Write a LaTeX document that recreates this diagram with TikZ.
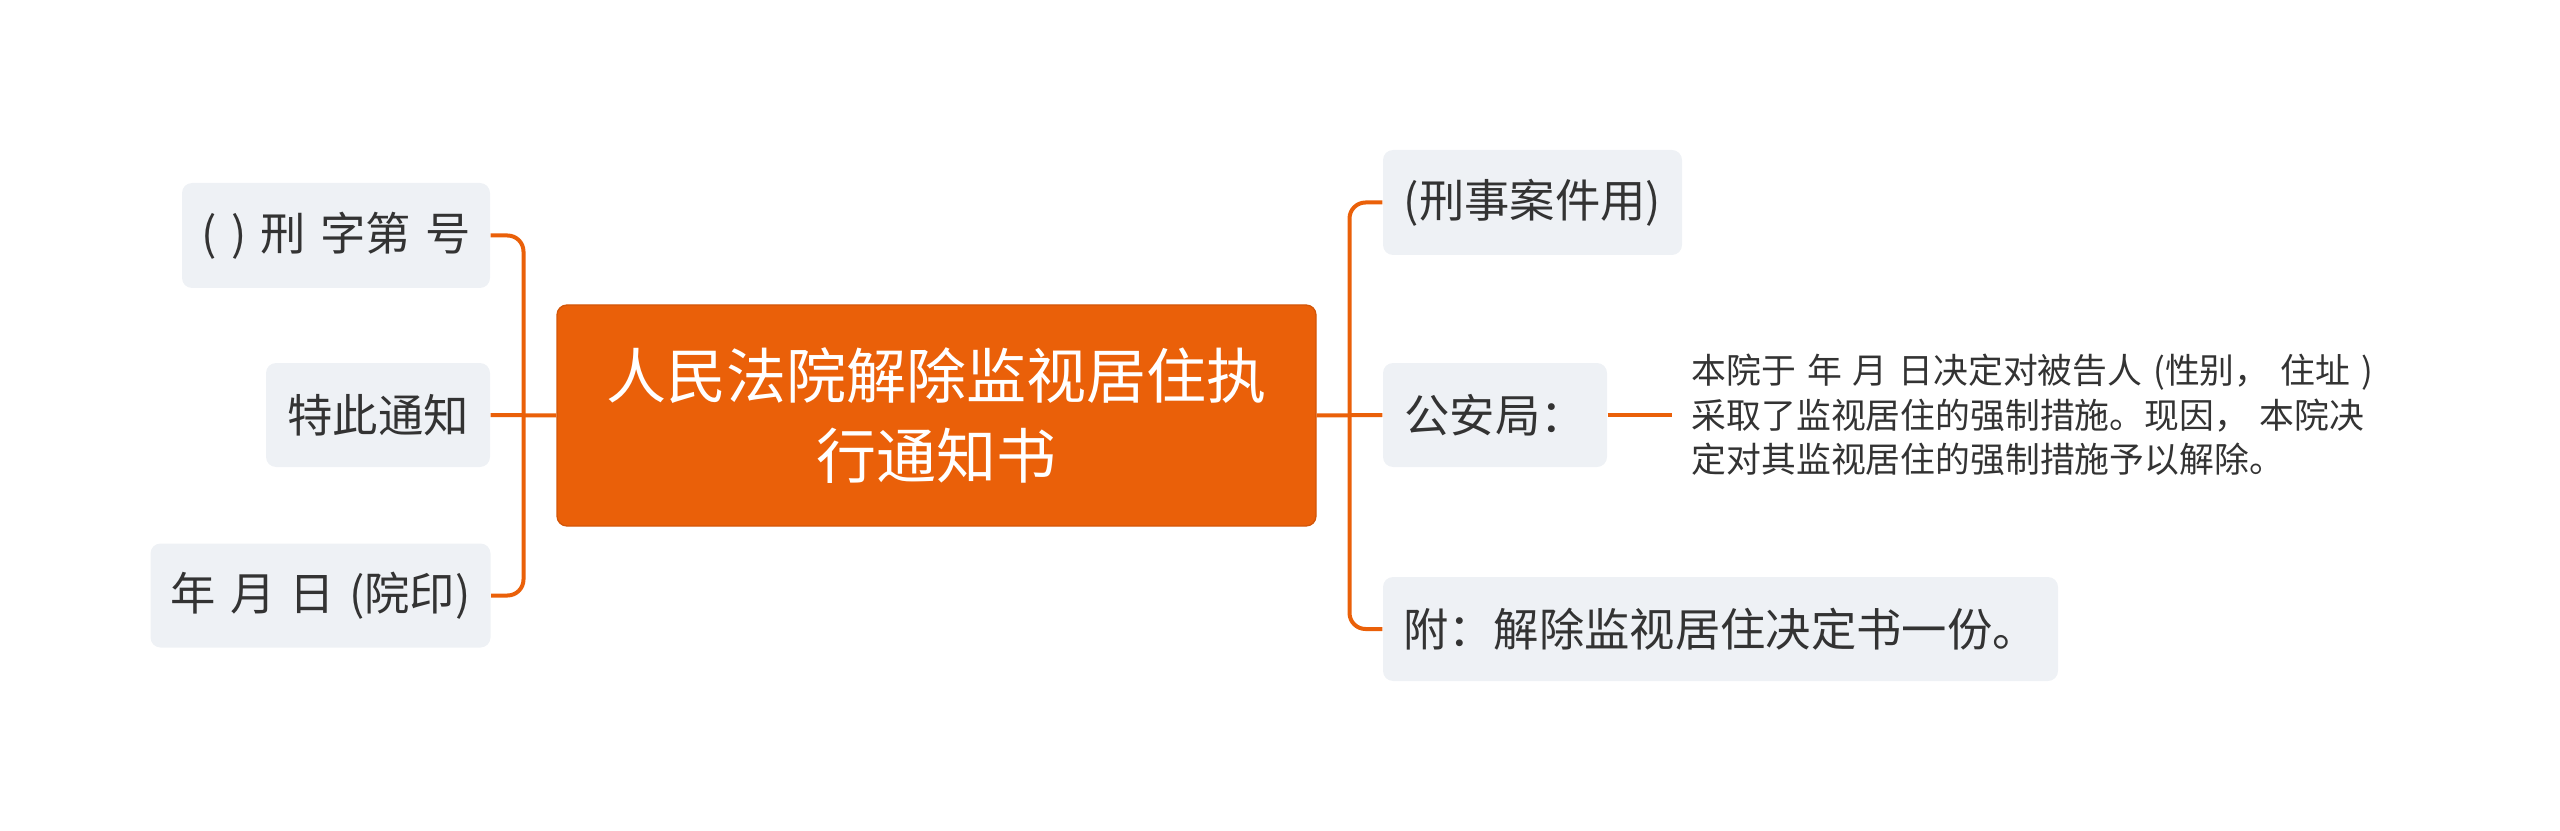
\documentclass[tikz,border=0pt]{standalone}
\usepackage{fontspec}
\setmainfont{Noto Sans CJK SC}[WordSpace=1.4]
\usepackage{xcolor}
\usetikzlibrary{calc}
\definecolor{mmorange}{HTML}{EA6009}
\definecolor{mmgray}{HTML}{EEF1F5}
\definecolor{mmtext}{HTML}{333333}
\newcommand{\pxu}{0.3pt}

\begin{document}
\begin{tikzpicture}[x=0.3pt,y=-0.3pt,font=\fontsize{13.6pt}{16pt}\selectfont]
    \tikzset{
      topic/.style={rectangle, rounded corners=3pt, fill=mmgray, text=mmtext, inner sep=0pt},
      root/.style={rectangle, rounded corners=3pt, draw=mmorange!90!black, line width=0.4pt,
        fill=mmorange, text=white, align=center, inner sep=0pt,
        font=\fontsize{18pt}{24pt}\selectfont},
      note/.style={anchor=west, align=left, text=mmtext, inner xsep=5.7pt,
        font=\fontsize{10.45pt}{13.35pt}\selectfont},
      link/.style={draw=mmorange, line width=1.2pt, rounded corners=4.8pt}
    }
    \useasboundingbox (0,0) rectangle (2560,831);
    % central topic
    \node[root, minimum width=759*\pxu, minimum height=221*\pxu] (ctr) at (936.5,415.5)
      {人民法院解除监视居住执\\行通知书};
    % left side
    \node[topic, minimum width=308*\pxu, minimum height=105*\pxu] (lt) at (336,235.5) {( ) 刑 字第 号};
    \node[topic, minimum width=224*\pxu, minimum height=104*\pxu] (lm) at (378,415) {特此通知};
    \node[topic, minimum width=340*\pxu, minimum height=104*\pxu] (lb) at (320.5,595.5) {年 月 日 (院印)};
    % right side
    \node[topic, minimum width=299*\pxu, minimum height=105*\pxu] (ra) at (1532.5,202.5) {(刑事案件用)};
    \node[topic, minimum width=224*\pxu, minimum height=104*\pxu] (rb) at (1495,415) {公安局：};
    \node[topic, minimum width=675*\pxu, minimum height=104*\pxu] (rc) at (1720.5,629) {附：解除监视居住决定书一份。};
    \node[note] (txt) at (1672,415)
      {本院于 年 月 日决定对被告人 (性别， 住址 )\\
       采取了监视居住的强制措施。现因， 本院决\\
       定对其监视居住的强制措施予以解除。};
    % connectors
    \coordinate (jl) at ($(lm.east)!.5!(ctr.west)$);
    \coordinate (jr) at ($(ctr.east)!.5!(rb.west)$);
    \draw[link] (lt.east) -| (jl) |- (lb.east);
    \draw[link] (ctr.west) -- (lm.east);
    \draw[link] (ra.west) -| (jr) |- (rc.west);
    \draw[link] (ctr.east) -- (rb.west);
    \draw[link] (rb.east) -- (txt.west);
  \end{tikzpicture}
\end{document}
